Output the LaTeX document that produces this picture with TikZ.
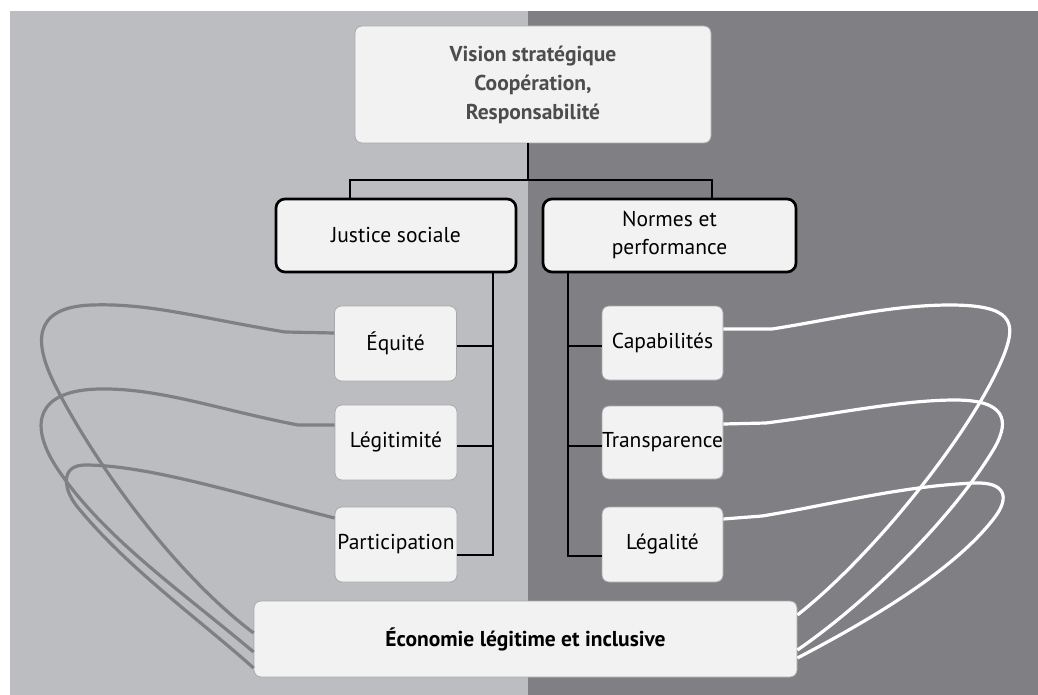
\documentclass[tikz,border=0pt]{standalone}
\usepackage{fontspec}
\setmainfont{PT Sans}
\definecolor{leftbg}{HTML}{BCBDC0}
\definecolor{rightbg}{HTML}{808084}
\definecolor{boxfill}{HTML}{F1F2F1}
\definecolor{boxline}{HTML}{A8A9AB}
\definecolor{curvegray}{HTML}{808084}
\definecolor{toptext}{HTML}{4D4D4F}
\tikzset{
  base/.style={rounded corners=7pt, fill=boxfill, align=center, inner sep=0pt,
    font=\fontsize{21.5}{28}\selectfont, text=black},
  thinbox/.style={base, draw=boxline, line width=0.8pt},
  thickbox/.style={base, draw=black, line width=2.7pt, rounded corners=9pt},
  conn/.style={draw=black, line width=2.7pt},
  graycurve/.style={draw=curvegray, line width=3.2pt, line join=round},
  whitecurve/.style={draw=white, line width=3.2pt, line join=round},
}
\begin{document}
\begin{tikzpicture}[x=1pt,y=-1pt]
\useasboundingbox (0,0) rectangle (1038,695);
\fill[white] (0,0) rectangle (1038,695);
\fill[leftbg] (10,11) rectangle (528,695);
\fill[rightbg] (528,11) rectangle (1038,695);

\coordinate (g1) at (285,332);
\coordinate (g2) at (298,425);
\coordinate (w1) at (772,329);
\coordinate (w2) at (766,423);
\coordinate (w3) at (762,516);

\node[thinbox, minimum width=356pt, minimum height=117pt, text=toptext, font=\fontsize{21.5}{29}\selectfont\bfseries] (vision) at (533,84.5) {Vision stratégique\\Coopération,\\Responsabilité};
\node[thickbox, minimum width=240pt, minimum height=73pt] (justice) at (396,235.5) {Justice sociale};
\node[thickbox, minimum width=253pt, minimum height=73pt] (normes) at (669.5,235.5) {Normes et\\performance};

\node[thinbox, minimum width=122pt, minimum height=75pt] (equite) at (395.5,343.5) {Équité};
\node[thinbox, minimum width=122pt, minimum height=75pt] (legit) at (396,442.5) {Légitimité};
\node[thinbox, minimum width=122pt, minimum height=75pt] (partic) at (396,544.5) {Participation};

\node[thinbox, minimum width=121pt, minimum height=74pt] (capab) at (662.5,343) {Capabilités};
\node[thinbox, minimum width=121pt, minimum height=73pt] (transp) at (662.5,442.5) {Transparence};
\node[thinbox, minimum width=121pt, minimum height=75pt] (legal) at (662.5,544.5) {Légalité};

\node[thinbox, minimum width=543pt, minimum height=76pt, font=\fontsize{21.5}{28}\selectfont\bfseries] (eco) at (525.5,639) {Économie légitime et inclusive};

% tree connectors
\draw[conn] (528,0 |- vision.south) -- (528,180);
\draw[conn] (350,0 |- justice.north) -- (350,180) -- (712,180) -- (712,0 |- normes.north);
\draw[conn] (493,0 |- justice.south) -- (493,555) -- (partic.east |- 0,555);
\draw[conn] (equite.east |- 0,346) -- (493,346);
\draw[conn] (legit.east |- 0,446) -- (493,446);
\draw[conn] (568,0 |- normes.south) -- (568,556) -- (legal.west |- 0,556);
\draw[conn] (568,346) -- (capab.west |- 0,346);
\draw[conn] (568,446) -- (transp.west |- 0,446);

% gray loops (left)
\draw[graycurve] (equite.west |- 0,333) -- (g1) .. controls (200,318) and (150,303) .. (92,305)
  .. controls (30,307) and (35,345) .. (55,385) .. controls (90,455) and (170,570) .. (eco.west |- 0,633);
\draw[graycurve] (legit.west |- 0,425) -- (g2) .. controls (220,410) and (160,388) .. (100,389)
  .. controls (35,390) and (30,425) .. (55,465) .. controls (100,535) and (180,590) .. (eco.west |- 0,652);
\draw[graycurve] (partic.west |- 0,518) .. controls (250,497) and (150,465) .. (85,465)
  .. controls (60,465) and (62,490) .. (80,510) .. controls (130,570) and (200,620) .. (eco.west |- 0,668);

% white loops (right)
\draw[whitecurve] (capab.east |- 0,329) -- (w1) .. controls (830,320) and (890,305) .. (950,305)
  .. controls (1012,305) and (1016,322) .. (1005,352) .. controls (980,420) and (880,550) .. (eco.east |- 0,615);
\draw[whitecurve] (transp.east |- 0,424) -- (w2) .. controls (830,415) and (900,400) .. (955,400)
  .. controls (1005,400) and (1010,420) .. (995,447) .. controls (955,515) and (870,600) .. (eco.east |- 0,650);
\draw[whitecurve] (legal.east |- 0,519) -- (w3) .. controls (830,505) and (900,486) .. (975,483)
  .. controls (1005,482) and (1010,497) .. (995,517) .. controls (955,570) and (870,620) .. (eco.east |- 0,658);
\end{tikzpicture}
\end{document}
